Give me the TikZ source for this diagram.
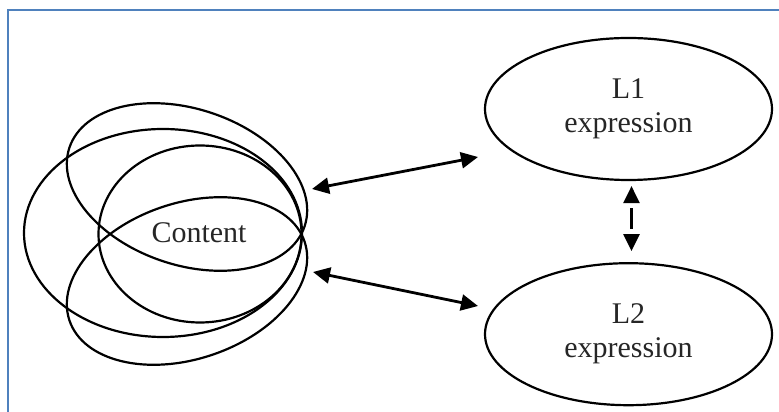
\documentclass[tikz,border=0pt]{standalone}
\usepackage{fontspec}
\setmainfont{Liberation Serif}
\usetikzlibrary{positioning,shapes.geometric,arrows.meta}
\definecolor{frameblue}{HTML}{4F81BD}

\begin{document}
\begin{tikzpicture}[x=1pt,y=1pt,node distance=81pt,
  every node/.style={font=\fontsize{30}{34}\selectfont,text=black!85},
  lang/.style={ellipse,draw,line width=2.2pt,minimum width=287pt,minimum height=142pt,inner sep=0pt,align=center},
  ring/.style={line width=2.2pt},
  link/.style={{Triangle[length=17pt,width=16pt]}-{Triangle[length=17pt,width=16pt]},line width=2.8pt}]
     \useasboundingbox (0,0) rectangle (779,412);
     \draw[frameblue,line width=2.4pt] (7.8,0) -- (7.8,401.8) -- (779,401.8);

     \node[lang] (l1) at (628.5,303) {L1\\expression};
     \node[lang,below=of l1] (l2) {L2\\expression};
     \node (content) at (199,179) {Content};

     % overlapping content rings
     \draw[ring] (163,179) ellipse (139 and 104);
     \draw[ring] (200,178) ellipse (101.5 and 88.5);
     \draw[ring,rotate around={-18.5:(187,225)}] (187,225) ellipse (124 and 78);
     \draw[ring,rotate around={18.5:(187,131)}] (187,131) ellipse (124 and 78);

     \coordinate (cu) at (312,223);
     \coordinate (lu) at (478,255);
     \coordinate (cd) at (313,140);
     \coordinate (ld) at (478,106);

     \draw[link] (cu) -- (lu);
     \draw[link] (cd) -- (ld);
     \draw[link,line width=2.4pt,dash pattern=on 21pt off 12pt,dash phase=27pt]
       ([xshift=3pt,yshift=-5pt]l1.south) -- ([xshift=3pt,yshift=11pt]l2.north);
\end{tikzpicture}
\end{document}
